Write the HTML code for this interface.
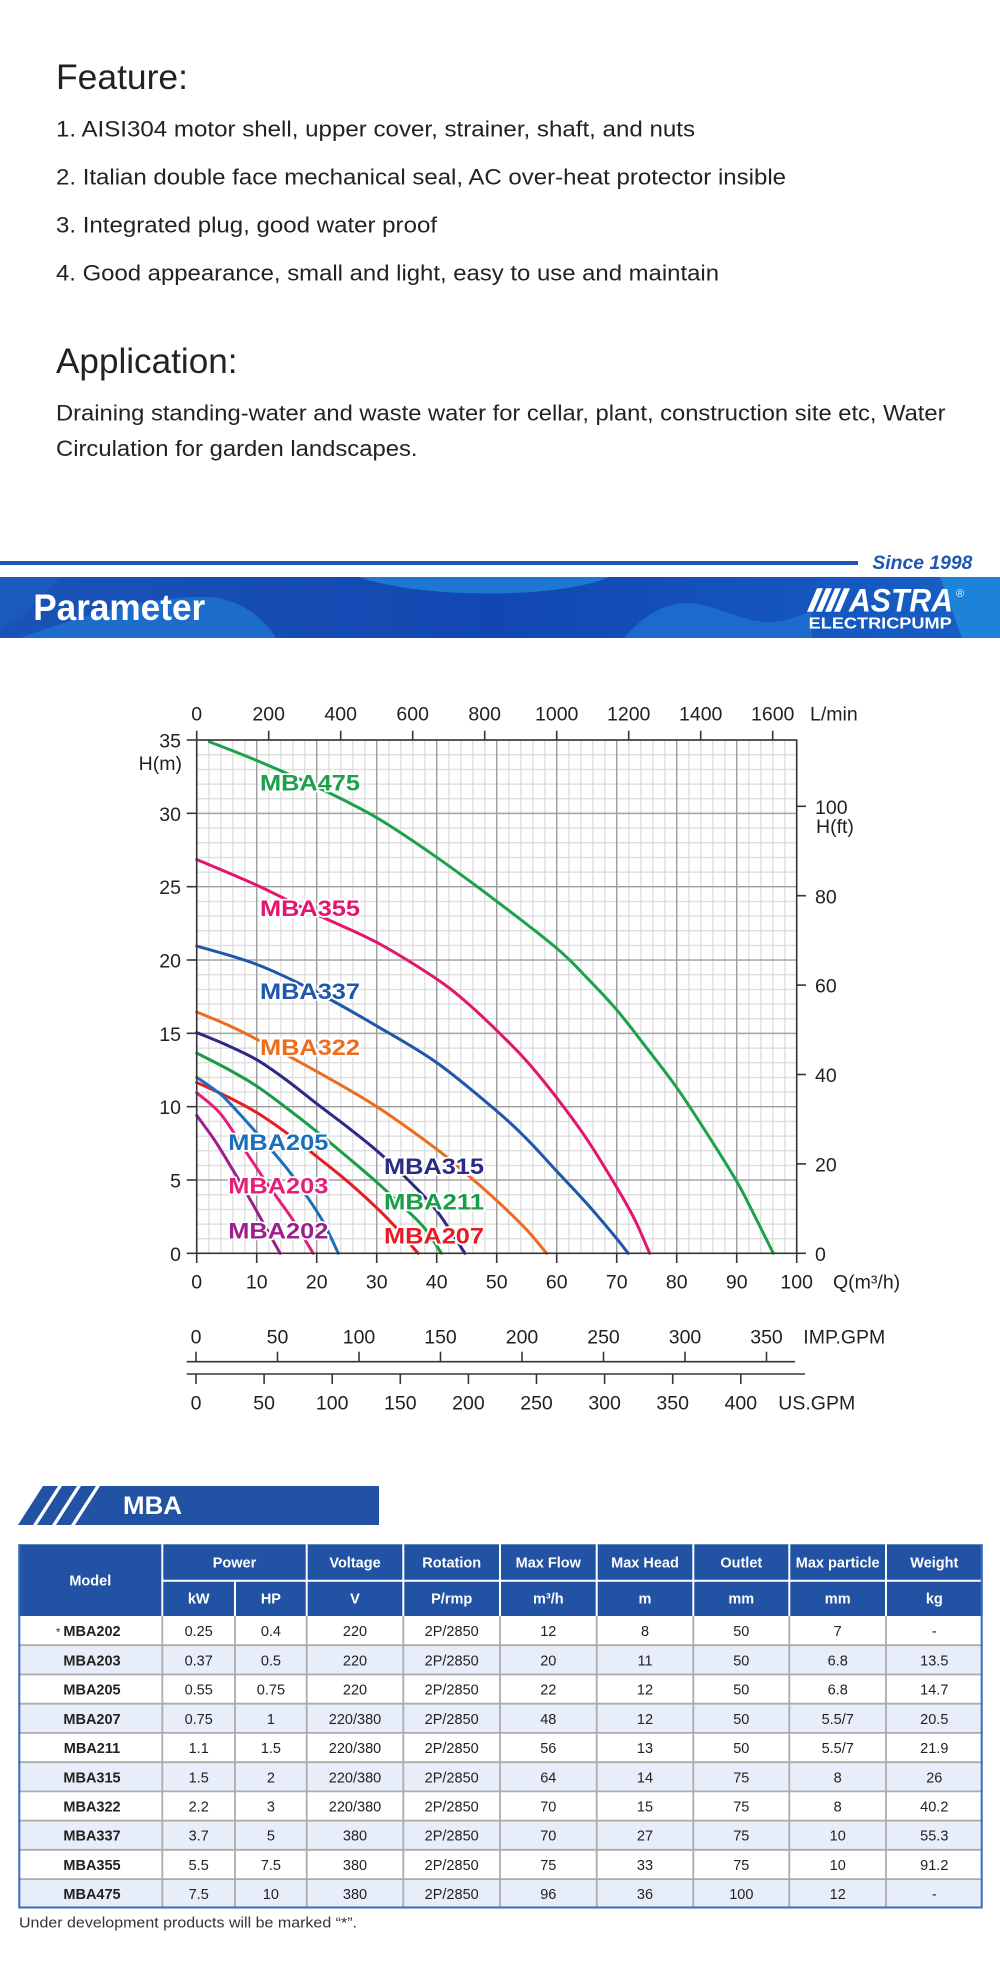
<!DOCTYPE html>
<html><head><meta charset="utf-8">
<style>
html,body{margin:0;padding:0;background:#fff;}
body{width:1000px;height:1981px;overflow:hidden;}
svg{display:block;font-family:"Liberation Sans",Arial,sans-serif;}
.ax{font-size:19.5px;fill:#231f20;}
.axm{font-size:19.5px;fill:#231f20;text-anchor:middle;}
.axe{font-size:19.5px;fill:#231f20;text-anchor:end;}
.lb{font-size:22px;font-weight:bold;stroke:#fff;stroke-width:3.5px;paint-order:stroke;stroke-linejoin:round;}
.th{font-size:14.5px;font-weight:bold;fill:#fff;text-anchor:middle;}
.td{font-size:14.5px;fill:#222;text-anchor:middle;}
.tm{font-size:14.5px;fill:#222;text-anchor:middle;font-weight:bold;}
.cv{fill:none;stroke-width:3px;stroke-linejoin:round;stroke-linecap:round;}
</style></head>
<body>
<svg width="1000" height="1981" viewBox="0 0 1000 1981" xmlns="http://www.w3.org/2000/svg">
<defs>
<linearGradient id="bg" x1="0" x2="1" y1="0" y2="0">
<stop offset="0" stop-color="#1a53b7"/><stop offset="0.5" stop-color="#1247b1"/><stop offset="1" stop-color="#1660c6"/>
</linearGradient>
<pattern id="minor" patternUnits="userSpaceOnUse" x="196.2" y="739.5" width="12" height="14.6667">
<rect x="0" y="0" width="1.2" height="14.6667" fill="#dadada"/><rect x="0" y="0" width="12" height="1.2" fill="#dadada"/>
</pattern>
<pattern id="major" patternUnits="userSpaceOnUse" x="196.05" y="739.35" width="60" height="73.3333">
<rect x="0" y="0" width="1.3" height="73.3333" fill="#9c9c9c"/><rect x="0" y="0" width="60" height="1.3" fill="#9c9c9c"/>
</pattern>
</defs>

<!-- Feature / Application text -->
<g fill="#222">
<text x="56" y="89" font-size="35" textLength="132" lengthAdjust="spacingAndGlyphs">Feature:</text>
<text x="56" y="136.7" font-size="22.5" textLength="639" lengthAdjust="spacingAndGlyphs">1. AISI304 motor shell, upper cover, strainer, shaft, and nuts</text>
<text x="56" y="184.7" font-size="22.5" textLength="730" lengthAdjust="spacingAndGlyphs">2. Italian double face mechanical seal, AC over-heat protector insible</text>
<text x="56" y="232.7" font-size="22.5" textLength="381" lengthAdjust="spacingAndGlyphs">3. Integrated plug, good water proof</text>
<text x="56" y="280.7" font-size="22.5" textLength="663" lengthAdjust="spacingAndGlyphs">4. Good appearance, small and light, easy to use and maintain</text>
<text x="56" y="373" font-size="35" textLength="181.5" lengthAdjust="spacingAndGlyphs">Application:</text>
<text x="56" y="420.5" font-size="22.5" textLength="889.5" lengthAdjust="spacingAndGlyphs">Draining standing-water and waste water for cellar, plant, construction site etc, Water</text>
<text x="56" y="456" font-size="22.5" textLength="361.5" lengthAdjust="spacingAndGlyphs">Circulation for garden landscapes.</text>
</g>

<!-- Parameter banner -->
<rect x="0" y="561" width="858" height="4" fill="#1f55b5"/>
<text x="872.4" y="569" font-size="19.5" font-weight="bold" font-style="italic" fill="#1f55b5" textLength="100" lengthAdjust="spacingAndGlyphs">Since 1998</text>
<rect x="0" y="577" width="1000" height="61" fill="url(#bg)"/>
<path d="M0,577 L60,577 C40,600 20,620 0,630 Z" fill="#1c5cc0" opacity="0.7"/>
<path d="M20,638 C90,612 170,592 218,598 C248,604 266,622 276,638 Z" fill="#1d6ccc"/>
<path d="M359,577 C420,599 560,599 609,577 Z" fill="#1e78d2"/>
<path d="M624,638 C645,614 665,603 688,603 C715,604 738,621 768,622 C785,622 800,616 812,610 L812,638 Z" fill="#1c6acb"/>
<path d="M940,577 L1000,577 L1000,638 L962,638 Z" fill="#1d83d8"/>
<text x="33.2" y="620" font-size="37" font-weight="bold" fill="#fff" textLength="172" lengthAdjust="spacingAndGlyphs">Parameter</text>
<g fill="#fff">
<polygon points="807,611.7 813,611.7 823,588.3 817,588.3"/>
<polygon points="816,611.7 822,611.7 832,588.3 826,588.3"/>
<polygon points="825,611.7 831,611.7 841,588.3 835,588.3"/>
<polygon points="834,611.7 840,611.7 850,588.3 844,588.3"/>
<text x="849" y="611.7" font-size="32" font-weight="bold" font-style="italic" textLength="104" lengthAdjust="spacingAndGlyphs">ASTRA</text>
<text x="808.7" y="628.3" font-size="16" font-weight="bold" textLength="143" lengthAdjust="spacingAndGlyphs">ELECTRICPUMP</text>
<text x="956" y="597" font-size="11">®</text>
</g>

<!-- Chart grid -->
<rect x="196.7" y="740" width="600" height="513.3" fill="url(#minor)"/>
<rect x="196.7" y="740" width="600" height="513.3" fill="url(#major)"/>

<!-- Curves -->
<g transform="translate(196.7,1253.3) scale(6,-14.6667)">
<polyline class="cv" vector-effect="non-scaling-stroke" stroke="#1ca14c" points="2.1,34.88 10,33.6 20,31.8 30,29.7 40,27.0 50,24.0 60,20.8 65,18.8 70,16.6 75,14.0 80,11.3 85,8.2 90,4.9 93,2.55 96.1,0"/>
<polyline class="cv" vector-effect="non-scaling-stroke" stroke="#e3156f" points="0,26.85 10,25.1 20,23.1 30,21.2 40,18.7 45,17.1 50,15.2 55,13.1 60,10.6 65,7.8 70,4.5 73,2.3 75.5,0"/>
<polyline class="cv" vector-effect="non-scaling-stroke" stroke="#1f58a8" points="0,20.95 10,19.7 20,17.8 30,15.5 40,13.0 50,9.7 55,7.8 60,5.6 65,3.4 70,1.0 71.9,0"/>
<polyline class="cv" vector-effect="non-scaling-stroke" stroke="#ee6c1e" points="0,16.45 5,15.6 10,14.6 20,12.4 30,10.0 40,7.1 45,5.4 50,3.6 55,1.6 58.3,0"/>
<polyline class="cv" vector-effect="non-scaling-stroke" stroke="#2b2a86" points="0,15.05 5,14.2 10,13.2 15,11.8 20,10.2 25,8.65 30,7.0 35,5.1 40,2.9 44.7,0"/>
<polyline class="cv" vector-effect="non-scaling-stroke" stroke="#1a9c48" points="0,13.65 5,12.6 10,11.4 15,9.9 20,8.3 25,6.6 30,4.85 35,2.95 38,1.7 40.8,0"/>
<polyline class="cv" vector-effect="non-scaling-stroke" stroke="#e81c24" points="0,11.65 5,10.7 10,9.6 15,8.2 20,6.6 25,4.95 30,3.1 33,1.85 36.9,0"/>
<polyline class="cv" vector-effect="non-scaling-stroke" stroke="#1b6fba" points="0,12.0 3,11.15 5,10.45 10,8.2 15,5.8 18,4.1 21,2.2 23.6,0"/>
<polyline class="cv" vector-effect="non-scaling-stroke" stroke="#e51f78" points="0,10.95 4,9.5 8,7.05 12,4.6 16,2.3 19.4,0"/>
<polyline class="cv" vector-effect="non-scaling-stroke" stroke="#9c1f8d" points="0,9.4 3,7.7 6,5.7 9,3.6 12,1.4 13.9,0"/>
</g>

<!-- Curve labels -->
<text class="lb" x="260" y="790.7" fill="#1ca04b" textLength="100" lengthAdjust="spacingAndGlyphs">MBA475</text>
<text class="lb" x="260" y="916" fill="#e3156f" textLength="100" lengthAdjust="spacingAndGlyphs">MBA355</text>
<text class="lb" x="260" y="999" fill="#1f58a8" textLength="100" lengthAdjust="spacingAndGlyphs">MBA337</text>
<text class="lb" x="260" y="1055" fill="#ee6c1e" textLength="100" lengthAdjust="spacingAndGlyphs">MBA322</text>
<text class="lb" x="228.3" y="1150" fill="#1b6fba" textLength="100" lengthAdjust="spacingAndGlyphs">MBA205</text>
<text class="lb" x="228.3" y="1193.3" fill="#e51f78" textLength="100" lengthAdjust="spacingAndGlyphs">MBA203</text>
<text class="lb" x="228.3" y="1238.3" fill="#9c1f8d" textLength="100" lengthAdjust="spacingAndGlyphs">MBA202</text>
<text class="lb" x="384" y="1174" fill="#2b2a86" textLength="100" lengthAdjust="spacingAndGlyphs">MBA315</text>
<text class="lb" x="384" y="1209.3" fill="#1a9c48" textLength="100" lengthAdjust="spacingAndGlyphs">MBA211</text>
<text class="lb" x="384" y="1243.3" fill="#e81c24" textLength="100" lengthAdjust="spacingAndGlyphs">MBA207</text>

<!-- Axes box and ticks -->
<rect x="196.7" y="740" width="600" height="513.3" fill="none" stroke="#3a3335" stroke-width="1.6"/>
<g stroke="#3a3335" stroke-width="1.6">
<!-- left ticks -->
<line x1="186.7" y1="740" x2="196.7" y2="740"/><line x1="186.7" y1="813.3" x2="196.7" y2="813.3"/>
<line x1="186.7" y1="886.7" x2="196.7" y2="886.7"/><line x1="186.7" y1="960" x2="196.7" y2="960"/>
<line x1="186.7" y1="1033.3" x2="196.7" y2="1033.3"/><line x1="186.7" y1="1106.7" x2="196.7" y2="1106.7"/>
<line x1="186.7" y1="1180" x2="196.7" y2="1180"/><line x1="186.7" y1="1253.3" x2="196.7" y2="1253.3"/>
<!-- top ticks -->
<line x1="196.7" y1="730.7" x2="196.7" y2="740"/><line x1="268.7" y1="730.7" x2="268.7" y2="740"/>
<line x1="340.7" y1="730.7" x2="340.7" y2="740"/><line x1="412.7" y1="730.7" x2="412.7" y2="740"/>
<line x1="484.7" y1="730.7" x2="484.7" y2="740"/><line x1="556.7" y1="730.7" x2="556.7" y2="740"/>
<line x1="628.7" y1="730.7" x2="628.7" y2="740"/><line x1="700.7" y1="730.7" x2="700.7" y2="740"/>
<line x1="772.7" y1="730.7" x2="772.7" y2="740"/>
<!-- bottom ticks -->
<line x1="196.7" y1="1253.3" x2="196.7" y2="1263"/><line x1="256.7" y1="1253.3" x2="256.7" y2="1263"/>
<line x1="316.7" y1="1253.3" x2="316.7" y2="1263"/><line x1="376.7" y1="1253.3" x2="376.7" y2="1263"/>
<line x1="436.7" y1="1253.3" x2="436.7" y2="1263"/><line x1="496.7" y1="1253.3" x2="496.7" y2="1263"/>
<line x1="556.7" y1="1253.3" x2="556.7" y2="1263"/><line x1="616.7" y1="1253.3" x2="616.7" y2="1263"/>
<line x1="676.7" y1="1253.3" x2="676.7" y2="1263"/><line x1="736.7" y1="1253.3" x2="736.7" y2="1263"/>
<line x1="796.7" y1="1253.3" x2="796.7" y2="1263"/>
<!-- right ticks -->
<line x1="796.7" y1="1253.3" x2="806" y2="1253.3"/><line x1="796.7" y1="1163.9" x2="806" y2="1163.9"/>
<line x1="796.7" y1="1074.5" x2="806" y2="1074.5"/><line x1="796.7" y1="985.1" x2="806" y2="985.1"/>
<line x1="796.7" y1="895.7" x2="806" y2="895.7"/><line x1="796.7" y1="806.3" x2="806" y2="806.3"/>
<!-- IMP / US axes -->
<line x1="186.7" y1="1361.7" x2="795" y2="1361.7"/>
<line x1="186.7" y1="1374" x2="805" y2="1374"/>
<line x1="196" y1="1351.7" x2="196" y2="1361.7"/><line x1="277.5" y1="1351.7" x2="277.5" y2="1361.7"/>
<line x1="359" y1="1351.7" x2="359" y2="1361.7"/><line x1="440.5" y1="1351.7" x2="440.5" y2="1361.7"/>
<line x1="522" y1="1351.7" x2="522" y2="1361.7"/><line x1="603.5" y1="1351.7" x2="603.5" y2="1361.7"/>
<line x1="685" y1="1351.7" x2="685" y2="1361.7"/><line x1="766.5" y1="1351.7" x2="766.5" y2="1361.7"/>
<line x1="196" y1="1374" x2="196" y2="1384"/><line x1="264.1" y1="1374" x2="264.1" y2="1384"/>
<line x1="332.2" y1="1374" x2="332.2" y2="1384"/><line x1="400.3" y1="1374" x2="400.3" y2="1384"/>
<line x1="468.4" y1="1374" x2="468.4" y2="1384"/><line x1="536.5" y1="1374" x2="536.5" y2="1384"/>
<line x1="604.6" y1="1374" x2="604.6" y2="1384"/><line x1="672.7" y1="1374" x2="672.7" y2="1384"/>
<line x1="740.8" y1="1374" x2="740.8" y2="1384"/>
</g>

<!-- Axis labels -->
<g>
<text class="axe" x="181" y="747.5">35</text><text class="axe" x="181" y="820.8">30</text>
<text class="axe" x="181" y="894.2">25</text><text class="axe" x="181" y="967.5">20</text>
<text class="axe" x="181" y="1040.8">15</text><text class="axe" x="181" y="1114.2">10</text>
<text class="axe" x="181" y="1187.5">5</text><text class="axe" x="181" y="1260.8">0</text>
<text class="axe" x="182" y="770">H(m)</text>

<text class="axm" x="196.7" y="720.7">0</text><text class="axm" x="268.7" y="720.7">200</text>
<text class="axm" x="340.7" y="720.7">400</text><text class="axm" x="412.7" y="720.7">600</text>
<text class="axm" x="484.7" y="720.7">800</text><text class="axm" x="556.7" y="720.7">1000</text>
<text class="axm" x="628.7" y="720.7">1200</text><text class="axm" x="700.7" y="720.7">1400</text>
<text class="axm" x="772.7" y="720.7">1600</text>
<text class="ax" x="810" y="720.7">L/min</text>

<text class="axm" x="196.7" y="1288.5">0</text><text class="axm" x="256.7" y="1288.5">10</text>
<text class="axm" x="316.7" y="1288.5">20</text><text class="axm" x="376.7" y="1288.5">30</text>
<text class="axm" x="436.7" y="1288.5">40</text><text class="axm" x="496.7" y="1288.5">50</text>
<text class="axm" x="556.7" y="1288.5">60</text><text class="axm" x="616.7" y="1288.5">70</text>
<text class="axm" x="676.7" y="1288.5">80</text><text class="axm" x="736.7" y="1288.5">90</text>
<text class="axm" x="796.7" y="1288.5">100</text>
<text class="ax" x="833" y="1288.5">Q(m³/h)</text>

<text class="ax" x="815" y="1261">0</text><text class="ax" x="815" y="1171.5">20</text>
<text class="ax" x="815" y="1082">40</text><text class="ax" x="815" y="992.7">60</text>
<text class="ax" x="815" y="903.3">80</text><text class="ax" x="815" y="814">100</text>
<text class="ax" x="816" y="833">H(ft)</text>

<text class="axm" x="196" y="1343.3">0</text><text class="axm" x="277.5" y="1343.3">50</text>
<text class="axm" x="359" y="1343.3">100</text><text class="axm" x="440.5" y="1343.3">150</text>
<text class="axm" x="522" y="1343.3">200</text><text class="axm" x="603.5" y="1343.3">250</text>
<text class="axm" x="685" y="1343.3">300</text><text class="axm" x="766.5" y="1343.3">350</text>
<text class="ax" x="803.3" y="1343.3">IMP.GPM</text>

<text class="axm" x="196" y="1409.3">0</text><text class="axm" x="264.1" y="1409.3">50</text>
<text class="axm" x="332.2" y="1409.3">100</text><text class="axm" x="400.3" y="1409.3">150</text>
<text class="axm" x="468.4" y="1409.3">200</text><text class="axm" x="536.5" y="1409.3">250</text>
<text class="axm" x="604.6" y="1409.3">300</text><text class="axm" x="672.7" y="1409.3">350</text>
<text class="axm" x="740.8" y="1409.3">400</text>
<text class="ax" x="778.3" y="1409.3">US.GPM</text>
</g>

<!-- MBA banner -->
<g fill="#2152a3">
<polygon points="18,1525 33,1525 58,1486 43,1486"/>
<polygon points="37,1525 52,1525 77,1486 62,1486"/>
<polygon points="56,1525 71,1525 96,1486 81,1486"/>
<polygon points="75,1525 379,1525 379,1486 100,1486"/>
</g>
<text x="123" y="1514" font-size="25" font-weight="bold" fill="#fff" textLength="59" lengthAdjust="spacingAndGlyphs">MBA</text>

<!-- Table -->
<rect x="18.3" y="1544.3" width="964.4" height="71.7" fill="#2152a3"/>
<g fill="#e7eef9">
<rect x="18.3" y="1645.2" width="964.4" height="29.3"/>
<rect x="18.3" y="1703.7" width="964.4" height="29.2"/>
<rect x="18.3" y="1762.2" width="964.4" height="29.2"/>
<rect x="18.3" y="1820.6" width="964.4" height="29.2"/>
<rect x="18.3" y="1879.1" width="964.4" height="29.2"/>
</g>
<g stroke="#fff" stroke-width="2">
<line x1="162.3" y1="1544.3" x2="162.3" y2="1616"/>
<line x1="235" y1="1580.7" x2="235" y2="1616"/>
<line x1="306.7" y1="1544.3" x2="306.7" y2="1616"/>
<line x1="403.3" y1="1544.3" x2="403.3" y2="1616"/>
<line x1="500" y1="1544.3" x2="500" y2="1616"/>
<line x1="596.7" y1="1544.3" x2="596.7" y2="1616"/>
<line x1="693.3" y1="1544.3" x2="693.3" y2="1616"/>
<line x1="789.3" y1="1544.3" x2="789.3" y2="1616"/>
<line x1="886" y1="1544.3" x2="886" y2="1616"/>
<line x1="162.3" y1="1580.7" x2="982.7" y2="1580.7"/>
</g>
<g stroke="#ababab" stroke-width="1.8">
<line x1="18.3" y1="1645.2" x2="982.7" y2="1645.2"/><line x1="18.3" y1="1674.5" x2="982.7" y2="1674.5"/>
<line x1="18.3" y1="1703.7" x2="982.7" y2="1703.7"/><line x1="18.3" y1="1732.9" x2="982.7" y2="1732.9"/>
<line x1="18.3" y1="1762.2" x2="982.7" y2="1762.2"/><line x1="18.3" y1="1791.4" x2="982.7" y2="1791.4"/>
<line x1="18.3" y1="1820.6" x2="982.7" y2="1820.6"/><line x1="18.3" y1="1849.8" x2="982.7" y2="1849.8"/>
<line x1="18.3" y1="1879.1" x2="982.7" y2="1879.1"/>
<line x1="162.3" y1="1616" x2="162.3" y2="1908"/><line x1="235" y1="1616" x2="235" y2="1908"/>
<line x1="306.7" y1="1616" x2="306.7" y2="1908"/><line x1="403.3" y1="1616" x2="403.3" y2="1908"/>
<line x1="500" y1="1616" x2="500" y2="1908"/><line x1="596.7" y1="1616" x2="596.7" y2="1908"/>
<line x1="693.3" y1="1616" x2="693.3" y2="1908"/><line x1="789.3" y1="1616" x2="789.3" y2="1908"/>
<line x1="886" y1="1616" x2="886" y2="1908"/>
</g>
<g stroke="#3a6bc3" stroke-width="2" fill="none">
<polyline points="19.3,1544.3 19.3,1907.5 981.7,1907.5 981.7,1544.3"/>
</g>

<!-- Header text -->
<text class="th" x="90.3" y="1585.4">Model</text>
<text class="th" x="234.5" y="1567.7">Power</text>
<text class="th" x="355" y="1567.7">Voltage</text>
<text class="th" x="451.7" y="1567.7">Rotation</text>
<text class="th" x="548.3" y="1567.7">Max Flow</text>
<text class="th" x="645" y="1567.7">Max Head</text>
<text class="th" x="741.3" y="1567.7">Outlet</text>
<text class="th" x="837.7" y="1567.7">Max particle</text>
<text class="th" x="934.3" y="1567.7">Weight</text>
<text class="th" x="198.7" y="1603.5">kW</text>
<text class="th" x="270.9" y="1603.5">HP</text>
<text class="th" x="355" y="1603.5">V</text>
<text class="th" x="451.7" y="1603.5">P/rmp</text>
<text class="th" x="548.3" y="1603.5">m³/h</text>
<text class="th" x="645" y="1603.5">m</text>
<text class="th" x="741.3" y="1603.5">mm</text>
<text class="th" x="837.7" y="1603.5">mm</text>
<text class="th" x="934.3" y="1603.5">kg</text>

<!-- Rows -->
<g>
<text x="56" y="1635.5" font-size="11" fill="#222">*</text>
<text class="tm" x="92" y="1636.1">MBA202</text><text class="td" x="198.7" y="1636.1">0.25</text><text class="td" x="270.9" y="1636.1">0.4</text><text class="td" x="355" y="1636.1">220</text><text class="td" x="451.7" y="1636.1">2P/2850</text><text class="td" x="548.3" y="1636.1">12</text><text class="td" x="645" y="1636.1">8</text><text class="td" x="741.3" y="1636.1">50</text><text class="td" x="837.7" y="1636.1">7</text><text class="td" x="934.3" y="1636.1">-</text>
</g>
<g>
<text class="tm" x="92" y="1665.3">MBA203</text><text class="td" x="198.7" y="1665.3">0.37</text><text class="td" x="270.9" y="1665.3">0.5</text><text class="td" x="355" y="1665.3">220</text><text class="td" x="451.7" y="1665.3">2P/2850</text><text class="td" x="548.3" y="1665.3">20</text><text class="td" x="645" y="1665.3">11</text><text class="td" x="741.3" y="1665.3">50</text><text class="td" x="837.7" y="1665.3">6.8</text><text class="td" x="934.3" y="1665.3">13.5</text>
</g>
<g>
<text class="tm" x="92" y="1694.6">MBA205</text><text class="td" x="198.7" y="1694.6">0.55</text><text class="td" x="270.9" y="1694.6">0.75</text><text class="td" x="355" y="1694.6">220</text><text class="td" x="451.7" y="1694.6">2P/2850</text><text class="td" x="548.3" y="1694.6">22</text><text class="td" x="645" y="1694.6">12</text><text class="td" x="741.3" y="1694.6">50</text><text class="td" x="837.7" y="1694.6">6.8</text><text class="td" x="934.3" y="1694.6">14.7</text>
</g>
<g>
<text class="tm" x="92" y="1723.8">MBA207</text><text class="td" x="198.7" y="1723.8">0.75</text><text class="td" x="270.9" y="1723.8">1</text><text class="td" x="355" y="1723.8">220/380</text><text class="td" x="451.7" y="1723.8">2P/2850</text><text class="td" x="548.3" y="1723.8">48</text><text class="td" x="645" y="1723.8">12</text><text class="td" x="741.3" y="1723.8">50</text><text class="td" x="837.7" y="1723.8">5.5/7</text><text class="td" x="934.3" y="1723.8">20.5</text>
</g>
<g>
<text class="tm" x="92" y="1753">MBA211</text><text class="td" x="198.7" y="1753">1.1</text><text class="td" x="270.9" y="1753">1.5</text><text class="td" x="355" y="1753">220/380</text><text class="td" x="451.7" y="1753">2P/2850</text><text class="td" x="548.3" y="1753">56</text><text class="td" x="645" y="1753">13</text><text class="td" x="741.3" y="1753">50</text><text class="td" x="837.7" y="1753">5.5/7</text><text class="td" x="934.3" y="1753">21.9</text>
</g>
<g>
<text class="tm" x="92" y="1782.3">MBA315</text><text class="td" x="198.7" y="1782.3">1.5</text><text class="td" x="270.9" y="1782.3">2</text><text class="td" x="355" y="1782.3">220/380</text><text class="td" x="451.7" y="1782.3">2P/2850</text><text class="td" x="548.3" y="1782.3">64</text><text class="td" x="645" y="1782.3">14</text><text class="td" x="741.3" y="1782.3">75</text><text class="td" x="837.7" y="1782.3">8</text><text class="td" x="934.3" y="1782.3">26</text>
</g>
<g>
<text class="tm" x="92" y="1811.5">MBA322</text><text class="td" x="198.7" y="1811.5">2.2</text><text class="td" x="270.9" y="1811.5">3</text><text class="td" x="355" y="1811.5">220/380</text><text class="td" x="451.7" y="1811.5">2P/2850</text><text class="td" x="548.3" y="1811.5">70</text><text class="td" x="645" y="1811.5">15</text><text class="td" x="741.3" y="1811.5">75</text><text class="td" x="837.7" y="1811.5">8</text><text class="td" x="934.3" y="1811.5">40.2</text>
</g>
<g>
<text class="tm" x="92" y="1840.7">MBA337</text><text class="td" x="198.7" y="1840.7">3.7</text><text class="td" x="270.9" y="1840.7">5</text><text class="td" x="355" y="1840.7">380</text><text class="td" x="451.7" y="1840.7">2P/2850</text><text class="td" x="548.3" y="1840.7">70</text><text class="td" x="645" y="1840.7">27</text><text class="td" x="741.3" y="1840.7">75</text><text class="td" x="837.7" y="1840.7">10</text><text class="td" x="934.3" y="1840.7">55.3</text>
</g>
<g>
<text class="tm" x="92" y="1870">MBA355</text><text class="td" x="198.7" y="1870">5.5</text><text class="td" x="270.9" y="1870">7.5</text><text class="td" x="355" y="1870">380</text><text class="td" x="451.7" y="1870">2P/2850</text><text class="td" x="548.3" y="1870">75</text><text class="td" x="645" y="1870">33</text><text class="td" x="741.3" y="1870">75</text><text class="td" x="837.7" y="1870">10</text><text class="td" x="934.3" y="1870">91.2</text>
</g>
<g>
<text class="tm" x="92" y="1899.2">MBA475</text><text class="td" x="198.7" y="1899.2">7.5</text><text class="td" x="270.9" y="1899.2">10</text><text class="td" x="355" y="1899.2">380</text><text class="td" x="451.7" y="1899.2">2P/2850</text><text class="td" x="548.3" y="1899.2">96</text><text class="td" x="645" y="1899.2">36</text><text class="td" x="741.3" y="1899.2">100</text><text class="td" x="837.7" y="1899.2">12</text><text class="td" x="934.3" y="1899.2">-</text>
</g>

<text x="19" y="1927.7" font-size="14.5" fill="#333" textLength="338" lengthAdjust="spacingAndGlyphs">Under development products will be marked “*”.</text>
</svg>
<script>
(function(){
  var pls=document.querySelectorAll('polyline.cv');
  for(var k=0;k<pls.length;k++){
    var pl=pls[k];
    var pts=pl.getAttribute('points').trim().split(/\s+/).map(function(p){return p.split(',').map(Number);});
    var d='M'+pts[0][0]+','+pts[0][1];
    for(var i=0;i<pts.length-1;i++){
      var p0=pts[i-1]||pts[i],p1=pts[i],p2=pts[i+1],p3=pts[i+2]||pts[i+1];
      var c1x=p1[0]+(p2[0]-p0[0])/6,c1y=p1[1]+(p2[1]-p0[1])/6;
      var c2x=p2[0]-(p3[0]-p1[0])/6,c2y=p2[1]-(p3[1]-p1[1])/6;
      d+=' C'+c1x+','+c1y+' '+c2x+','+c2y+' '+p2[0]+','+p2[1];
    }
    var path=document.createElementNS('http://www.w3.org/2000/svg','path');
    path.setAttribute('d',d);
    path.setAttribute('class','cv');
    path.setAttribute('stroke',pl.getAttribute('stroke'));
    path.setAttribute('vector-effect','non-scaling-stroke');
    pl.parentNode.replaceChild(path,pl);
  }
})();
</script>
</body></html>
